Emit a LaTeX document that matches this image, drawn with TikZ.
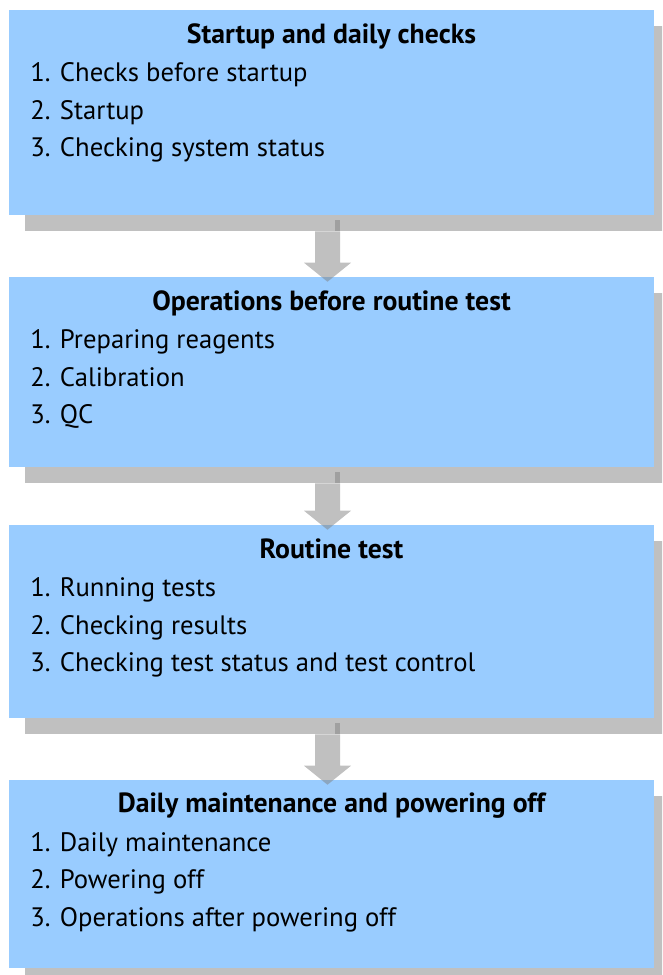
\documentclass[tikz,border=0pt]{standalone}
\usepackage{fontspec}
\setmainfont{PT Sans}
\usetikzlibrary{calc,shadows}
\definecolor{boxblue}{HTML}{99CCFF}
\definecolor{shadowgray}{HTML}{C0C0C0}
\definecolor{arrowgray}{HTML}{818181}
\tikzset{
  stage/.style={fill=boxblue, inner sep=0pt, minimum width=483.75pt,
    drop shadow={shadow xshift=12pt, shadow yshift=-12pt, fill=shadowgray, opacity=1}},
  title/.style={anchor=base, inner sep=0pt, font=\fontsize{20.8}{24}\selectfont\bfseries},
  item/.style={anchor=base west, inner sep=0pt, font=\fontsize{20}{24}\selectfont},
  flow/.style={fill=arrowgray, fill opacity=0.5}
}
\begin{document}
\begin{tikzpicture}[x=0.75pt, y=-0.75pt]
  \useasboundingbox (0,0) rectangle (662,975);
  \clip (0,0) rectangle (662,975);
  % the four stages
  \node[stage, minimum height=153.75pt] (s1) at (331.5,112.5) {};
  \node[stage, minimum height=142.5pt] (s2) at (331.5,372) {};
  \node[stage, minimum height=144.75pt] (s3) at (331.5,621.5) {};
  \node[stage, minimum height=141pt] (s4) at (331.5,874) {};
  % texts
  \node[title] (t1) at ($(s1.north)+(0,34)$) {Startup and daily checks};
  \node[item] (s1a) at (30,81) {1. Checks before startup};
  \node[item] (s1b) at (30,119) {2. Startup};
  \node[item] (s1c) at (30,156) {3. Checking system status};
  \node[title] (t2) at ($(s2.north)+(0,34)$) {Operations before routine test};
  \node[item] (s2a) at (30,348) {1. Preparing reagents};
  \node[item] (s2b) at (30,386) {2. Calibration};
  \node[item] (s2c) at (30,423) {3. QC};
  \node[title] (t3) at ($(s3.north)+(0,34)$) {Routine test};
  \node[item] (s3a) at (30,596) {1. Running tests};
  \node[item] (s3b) at (30,634) {2. Checking results};
  \node[item] (s3c) at (30,671) {3. Checking test status and test control};
  \node[title] (t4) at ($(s4.north)+(0,33)$) {Daily maintenance and powering off};
  \node[item] (s4a) at (30,851) {1. Daily maintenance};
  \node[item] (s4b) at (30,888) {2. Powering off};
  \node[item] (s4c) at (30,926) {3. Operations after powering off};
  % block arrows between stages
  \foreach \a/\b in {s1/s2, s2/s3, s3/s4} {
    \fill[flow] ($(\a.south)+(3.5,5)$) rectangle ($(\a.south)+(8.5,16)$);
    \fill[flow] ($(\a.south)+(-16.5,16)$) -- ($(\a.south)+(8.5,16)$)
      -- ($(\b.north)+(8.5,-14)$) -- ($(\b.north)+(19.5,-14)$)
      -- ($(\b.north)+(-4,5)$) -- ($(\b.north)+(-27.5,-14)$)
      -- ($(\b.north)+(-16.5,-14)$) -- cycle;
  }
\end{tikzpicture}
\end{document}
